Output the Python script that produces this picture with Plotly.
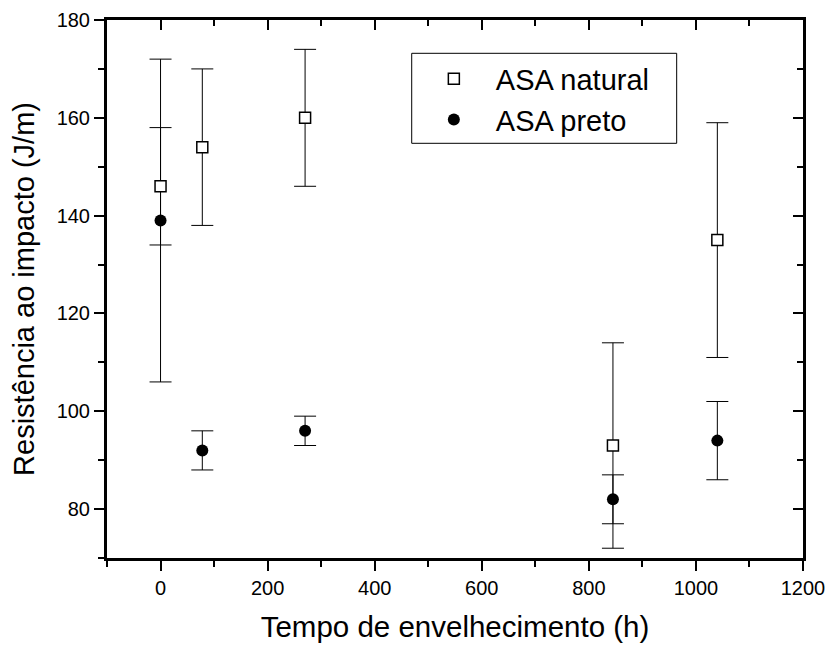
import plotly.graph_objects as go

# ---- data ----
times = [0, 78, 270, 845, 1040]
natural_mean = [146, 154, 160, 93, 135]
natural_err = [12, 16, 14, 21, 24]
preto_mean = [139, 92, 96, 82, 94]
preto_err = [33, 4, 3, 5, 8]

x_range = [-100, 1200]
y_range = [70, 180]
x_tickvals = [0, 200, 400, 600, 800, 1000, 1200]
y_tickvals = [80, 100, 120, 140, 160, 180]

x_title = "Tempo de envelhecimento (h)"
y_title = "Resistência ao impacto (J/m)"
name_natural = "ASA natural"
name_preto = "ASA preto"

FONT = "Liberation Sans, Arial, sans-serif"

fig = go.Figure()

fig.add_trace(go.Scatter(
    x=times, y=preto_mean, mode="markers", name=name_preto,
    marker=dict(symbol="circle", size=12, color="black"),
    error_y=dict(type="data", array=preto_err, visible=True,
                 color="black", thickness=1, width=11),
    legendrank=2,
))
fig.add_trace(go.Scatter(
    x=times, y=natural_mean, mode="markers", name=name_natural,
    marker=dict(symbol="square", size=11, color="white",
                line=dict(color="black", width=1.5)),
    error_y=dict(type="data", array=natural_err, visible=True,
                 color="black", thickness=1, width=11),
    legendrank=1,
))
# invisible trace to anchor mirrored (top/right) axes
fig.add_trace(go.Scatter(
    x=times, y=natural_mean, xaxis="x2", yaxis="y2", mode="markers",
    marker=dict(opacity=0), showlegend=False, hoverinfo="skip",
))

axis_common = dict(showgrid=False, zeroline=False, showline=True,
                   linecolor="black", linewidth=3, tickcolor="black",
                   tickwidth=2, ticklen=10, automargin=False)

fig.update_layout(
    width=832, height=645,
    margin=dict(l=107, r=29, t=20, b=87),
    paper_bgcolor="white", plot_bgcolor="white",
    font=dict(family=FONT, color="black"),
    xaxis=dict(range=x_range, tickvals=x_tickvals, ticks="outside",
               tickfont=dict(size=20),
               title=dict(text=x_title, font=dict(size=29.5), standoff=19),
               minor=dict(dtick=100, tick0=0, ticks="outside", ticklen=6,
                          tickwidth=2, tickcolor="black"),
               **axis_common),
    yaxis=dict(range=y_range, tickvals=y_tickvals, ticks="outside",
               tickfont=dict(size=20),
               title=dict(text=y_title, font=dict(size=29), standoff=14),
               minor=dict(dtick=10, tick0=0, ticks="outside", ticklen=6,
                          tickwidth=2, tickcolor="black"),
               **axis_common),
    xaxis2=dict(range=x_range, overlaying="x", side="top", anchor="y",
                tickvals=x_tickvals, ticks="inside", showticklabels=False,
                minor=dict(dtick=100, tick0=0, ticks="inside", ticklen=6,
                           tickwidth=2, tickcolor="black"),
                **axis_common),
    yaxis2=dict(range=y_range, overlaying="y", side="right", anchor="x",
                tickvals=y_tickvals, ticks="inside", showticklabels=False,
                minor=dict(dtick=10, tick0=0, ticks="inside", ticklen=6,
                           tickwidth=2, tickcolor="black"),
                **axis_common),
    showlegend=True,
    legend=dict(x=0.438, y=0.938, xanchor="left", yanchor="top",
                bgcolor="rgba(0,0,0,0)", borderwidth=0,
                font=dict(size=29), itemwidth=74,
                tracegroupgap=0),
    shapes=[dict(type="rect", xref="paper", yref="paper",
                 x0=0.4378, x1=0.8185, y0=0.7708, y1=0.9381,
                 line=dict(color="black", width=1), layer="above")],
)

fig.write_html("out.html")
